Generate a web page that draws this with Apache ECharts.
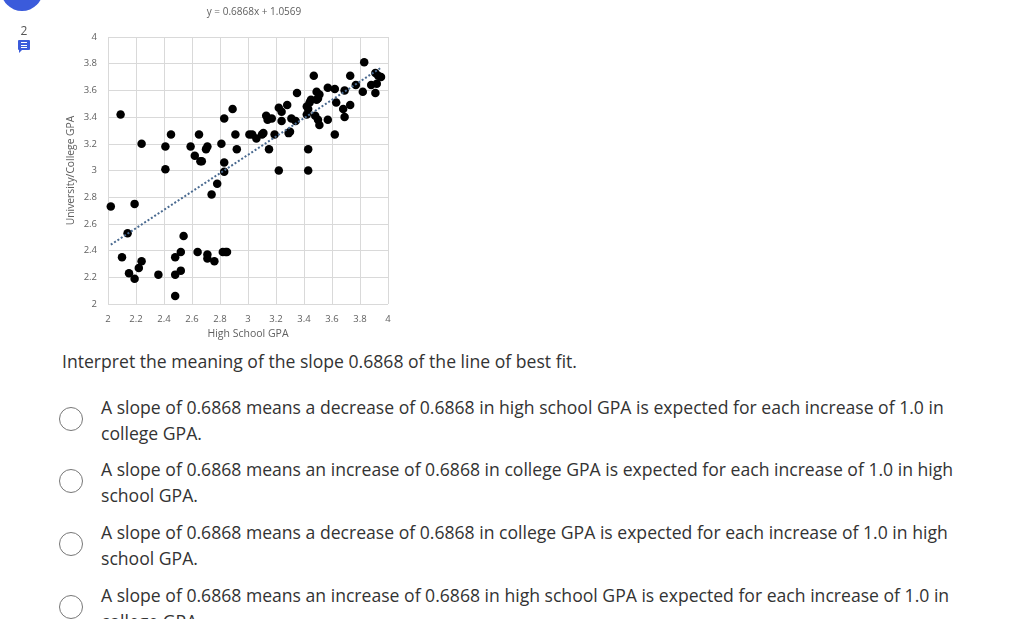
<!DOCTYPE html>
<html>
<head>
<meta charset="utf-8">
<script src="https://cdn.jsdelivr.net/npm/echarts@6/dist/echarts.min.js"></script>
<style>
  html, body { margin: 0; padding: 0; background: #fff; width: 1025px; height: 619px; overflow: hidden; font-family: "Open Sans", sans-serif; }
  #chart { position: absolute; left: 0; top: 0; width: 1025px; height: 345px; }
  .badge { position: absolute; left: 1px; top: -31px; width: 42px; height: 42px; border-radius: 50%; background: #3b5bdb; }
  .num { position: absolute; left: 19px; top: 22px; font-size: 12px; color: #555; width: 10px; text-align: center; }
  .icon { position: absolute; left: 18px; top: 40px; width: 12px; height: 10px; background: #3b5bdb; border-radius: 1px; }
  .icon i { position: absolute; left: 3px; width: 6px; height: 1px; background: #fff; }
  .icon:after { content: ""; position: absolute; left: 1px; bottom: -3px; border-left: 3px solid #3b5bdb; border-bottom: 3px solid transparent; }
  .q { position: absolute; left: 62px; top: 348px; font-size: 17.6px; color: #333; line-height: 26px; white-space: nowrap; }
  .opt { position: absolute; left: 101px; font-size: 17.6px; color: #333; line-height: 26px; white-space: nowrap; }
  .radio { position: absolute; left: 59px; width: 22px; height: 22px; border: 1px solid #777; border-radius: 50%; background: #fff; }
</style>
</head>
<body>
<div id="chart"></div>
<div class="badge"></div>
<div class="num">2</div>
<div class="icon"><i style="top:2px"></i><i style="top:4.5px"></i><i style="top:7px"></i></div>

<div class="q">Interpret the meaning of the slope 0.6868 of the line of best fit.</div>

<div class="radio" style="top:407px"></div>
<div class="opt" style="top:394px">A slope of 0.6868 means a decrease of 0.6868 in high school GPA is expected for each increase of 1.0 in<br>college GPA.</div>

<div class="radio" style="top:469px"></div>
<div class="opt" style="top:456px">A slope of 0.6868 means an increase of 0.6868 in college GPA is expected for each increase of 1.0 in high<br>school GPA.</div>

<div class="radio" style="top:532px"></div>
<div class="opt" style="top:519px">A slope of 0.6868 means a decrease of 0.6868 in college GPA is expected for each increase of 1.0 in high<br>school GPA.</div>

<div class="radio" style="top:595px"></div>
<div class="opt" style="top:582px">A slope of 0.6868 means an increase of 0.6868 in high school GPA is expected for each increase of 1.0 in<br>college GPA.</div>

<script>
// High school GPA (x) and University/College GPA (y)
const highSchoolGPA = [
  2.02, 2.09, 2.19, 2.14, 2.24, 2.10, 2.15, 2.19, 2.22, 2.24,
  2.36, 2.41, 2.41, 2.45, 2.48, 2.48, 2.48, 2.52, 2.52, 2.54,
  2.59, 2.62, 2.65, 2.66, 2.67, 2.70, 2.71, 2.64, 2.71, 2.71,
  2.76, 2.74, 2.78, 2.81, 2.83, 2.83, 2.83, 2.89, 2.82, 2.84,
  2.85, 2.91, 2.92,
  3.83, 3.47, 3.73, 3.91, 3.93, 3.95, 3.77, 3.88, 3.92, 3.82,
  3.91, 3.35, 3.49, 3.51, 3.57, 3.62, 3.69, 3.44, 3.45, 3.49,
  3.50, 3.63, 3.68, 3.73, 3.69, 3.42, 3.43, 3.28, 3.22, 3.24,
  3.13, 3.14, 3.17, 3.24, 3.31, 3.34, 3.42, 3.48, 3.50, 3.57,
  3.51, 3.01, 3.03, 3.06, 3.10, 3.11, 3.19, 3.29, 3.30, 3.15,
  3.43, 3.22, 3.43, 3.62
];
const collegeGPA = [
  2.73, 3.42, 2.75, 2.53, 3.20, 2.35, 2.23, 2.19, 2.27, 2.32,
  2.22, 3.18, 3.01, 3.27, 2.35, 2.22, 2.06, 2.39, 2.25, 2.51,
  3.18, 3.11, 3.27, 3.07, 3.07, 3.16, 3.18, 2.39, 2.37, 2.34,
  2.32, 2.82, 2.90, 3.20, 2.99, 3.06, 3.39, 3.46, 2.39, 2.39,
  2.39, 3.27, 3.16,
  3.81, 3.71, 3.71, 3.73, 3.71, 3.70, 3.64, 3.64, 3.65, 3.59,
  3.58, 3.58, 3.59, 3.57, 3.62, 3.61, 3.60, 3.51, 3.53, 3.53,
  3.54, 3.51, 3.46, 3.49, 3.40, 3.48, 3.46, 3.49, 3.47, 3.44,
  3.41, 3.38, 3.39, 3.37, 3.39, 3.37, 3.42, 3.41, 3.38, 3.38,
  3.34, 3.27, 3.27, 3.24, 3.27, 3.28, 3.27, 3.28, 3.29, 3.16,
  3.16, 3.00, 3.00, 3.27
];
// Trendline
const slope = 0.6868;
const intercept = 1.0569;
const trendLabel = ["y = 0.6868x + 1.0569"];
const axisNames = ["High School GPA", "University/College GPA"];

const points = highSchoolGPA.map((x, i) => [x, collegeGPA[i]]);
const xMin = Math.min(...highSchoolGPA);
const xMax = Math.max(...highSchoolGPA);
const trend = [[xMin, slope * xMin + intercept], [xMax, slope * xMax + intercept]];

const chart = echarts.init(document.getElementById('chart'));
const gridLine = { show: true, lineStyle: { color: '#d9d9d9', width: 1 } };
const lbl = { color: '#606060', fontSize: 9.5, fontFamily: 'Open Sans' };
chart.setOption({
  animation: false,
  grid: { left: 108, top: 37, width: 280, height: 267, containLabel: false },
  graphic: [{
    type: 'text', x: 254, y: 12,
    style: { text: trendLabel[0], fill: '#606060', font: '10px "Open Sans"', textAlign: 'center', textVerticalAlign: 'middle' }
  }],
  xAxis: {
    type: 'value', min: 2, max: 4, interval: 0.2,
    name: axisNames[0], nameLocation: 'middle', nameGap: 23,
    nameTextStyle: { color: '#606060', fontSize: 10.5, fontFamily: 'Open Sans' },
    axisLine: { show: false }, axisTick: { show: false },
    axisLabel: Object.assign({ margin: 10 }, lbl),
    splitLine: gridLine
  },
  yAxis: {
    type: 'value', min: 2, max: 4, interval: 0.2,
    name: axisNames[1], nameLocation: 'middle', nameGap: 32,
    nameTextStyle: { color: '#606060', fontSize: 10.3, fontFamily: 'Open Sans' },
    axisLine: { show: false }, axisTick: { show: false },
    axisLabel: Object.assign({ margin: 11 }, lbl),
    splitLine: gridLine
  },
  series: [
    {
      type: 'scatter', data: points, symbolSize: 8.5,
      itemStyle: { color: '#000', opacity: 1 }, z: 3
    },
    {
      type: 'line', data: trend, showSymbol: false, symbol: 'none',
      lineStyle: { color: '#4a6a90', width: 2, type: [2, 2] }, z: 4
    }
  ]
});
</script>
</body>
</html>
